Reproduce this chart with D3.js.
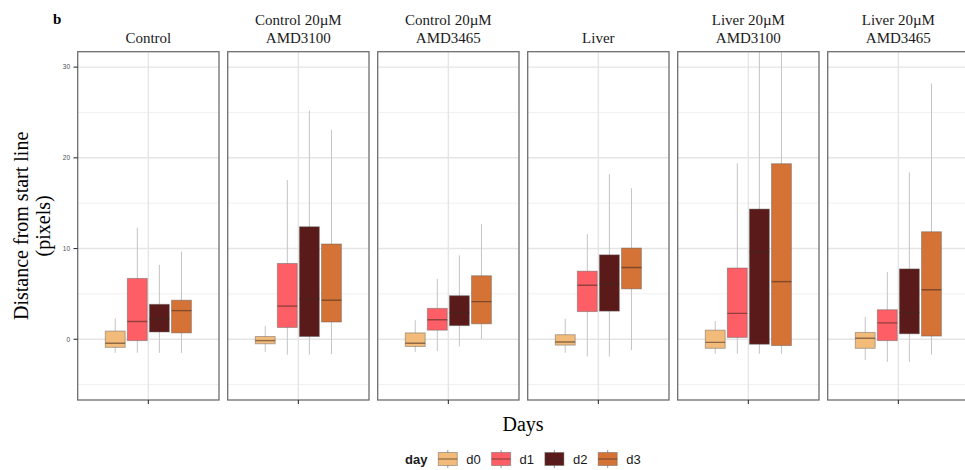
<!DOCTYPE html>
<meta charset="utf-8">
<style>
body{
  margin: 0px;
  background: white;
}
svg{
  display: block;
}
.strip{
  font-family: "Liberation Serif", "Times New Roman", serif;
  font-size: 15px;
  fill: #1a1a1a;
}
.axis-title{
  font-family: "Liberation Serif", "Times New Roman", serif;
  font-size: 20px;
  fill: #000;
}
.ytick{
  font-family: "Liberation Sans", Arial, sans-serif;
  font-size: 6.5px;
  fill: #4d4d4d;
}
.legend{
  font-family: "Liberation Sans", Arial, sans-serif;
  font-size: 13px;
  fill: #1a1a1a;
}
</style>
<body>
<script src="https://cdn.jsdelivr.net/npm/d3@7"></script>
<script>

var panels = ['Control', 'Control 20µM|AMD3100', 'Control 20µM|AMD3465',
              'Liver', 'Liver 20µM|AMD3100', 'Liver 20µM|AMD3465']
var days = ['d0', 'd1', 'd2', 'd3']
var colors = ['#f2bb7a', '#fe5f66', '#5b1a1a', '#d57236']

// box stats per panel, one value per day (d0..d3)
var whiskerLow = [
  [-1.5, -1.5, -1.5, -1.5],
  [-1.4, -1.7, -1.7, -1.65],
  [-1.4, -1.3, -0.8, 0.0],
  [-1.5, -1.9, -1.9, -1.2],
  [-1.6, -1.6, -1.6, -1.6],
  [-2.3, -2.5, -2.5, -1.7]
]
var q1 = [
  [-0.9, -0.15, 0.8, 0.7],
  [-0.5, 1.3, 0.3, 1.9],
  [-0.8, 1.0, 1.5, 1.7],
  [-0.65, 3.05, 3.1, 5.55],
  [-1.0, 0.2, -0.55, -0.7],
  [-1.0, -0.15, 0.6, 0.35]
]
var median = [
  [-0.45, 1.95, 2.25, 3.15],
  [-0.15, 3.65, 4.45, 4.3],
  [-0.45, 2.15, 2.95, 4.15],
  [-0.3, 5.95, 6.1, 7.9],
  [-0.35, 2.85, 9.65, 6.35],
  [0.1, 1.8, 2.95, 5.45]
]
var q3 = [
  [0.9, 6.7, 3.85, 4.3],
  [0.3, 8.35, 12.4, 10.5],
  [0.7, 3.4, 4.8, 7.0],
  [0.5, 7.5, 9.3, 10.05],
  [1.0, 7.85, 14.35, 19.35],
  [0.75, 3.25, 7.75, 11.85]
]
var whiskerHigh = [
  [2.3, 12.3, 8.2, 9.65],
  [1.45, 17.55, 25.2, 23.1],
  [2.1, 6.65, 9.25, 12.7],
  [2.25, 11.6, 18.2, 16.65],
  [2.0, 19.4, 34, 34],
  [2.45, 7.4, 18.4, 28.2]
]
var yMajor = [0, 10, 20, 30]
var yMinor = [-5, 5, 15, 25]

var width = 965,
    height = 470,
    plotTop = 51.7,
    plotBottom = 400

var svg = d3.select('body').append('svg')
    .attr('width', width)
    .attr('height', height)

var px = d3.scaleBand()
    .domain(panels)
    .range([77.7, 77.7 + 891.3])
    .paddingInner(0.058)
    .paddingOuter(0)

var y = d3.scaleLinear()
    .domain([-6.7, 31.7])
    .range([plotBottom, plotTop])

var pw = px.bandwidth()
var ph = plotBottom - plotTop

svg.append('defs').append('clipPath')
    .attr('id', 'panel-clip')
  .append('rect')
    .attr('y', plotTop)
    .attr('width', pw)
    .attr('height', ph)

var panel = svg.selectAll('g.panel')
    .data(panels)
  .enter().append('g')
    .attr('class', 'panel')
    .attr('transform', function(d){ return 'translate(' + px(d) + ',0)' })

panel.append('rect')
    .attr('y', plotTop)
    .attr('width', pw)
    .attr('height', ph)
    .style('fill', 'white')

var inner = panel.append('g')
    .attr('clip-path', 'url(#panel-clip)')

// grid
inner.selectAll('line.minor')
    .data(yMinor)
  .enter().append('line')
    .attr('x1', 0).attr('x2', pw)
    .attr('y1', y).attr('y2', y)
    .style('stroke', '#eeeeee')
    .style('stroke-width', 0.9)

inner.selectAll('line.major')
    .data(yMajor)
  .enter().append('line')
    .attr('x1', 0).attr('x2', pw)
    .attr('y1', y).attr('y2', y)
    .style('stroke', '#e5e5e5')
    .style('stroke-width', 1.4)

inner.append('line')
    .attr('x1', pw / 2).attr('x2', pw / 2)
    .attr('y1', plotTop).attr('y2', plotBottom)
    .style('stroke', '#e5e5e5')
    .style('stroke-width', 1.4)

// boxes
var dx = d3.scaleBand()
    .domain(days)
    .range([pw / 2 - 44.15, pw / 2 + 44.15])

var bw = dx.bandwidth() * 0.9

inner.each(function(p, pi){
  var g = d3.select(this)
  var box = g.selectAll('g.box')
      .data(days)
    .enter().append('g')
      .attr('transform', function(d){ return 'translate(' + (dx(d) + dx.bandwidth() / 2) + ',0)' })

  box.append('line')
      .attr('y1', function(d, i){ return y(whiskerLow[pi][i]) })
      .attr('y2', function(d, i){ return y(whiskerHigh[pi][i]) })
      .style('stroke', '#c4c4c4')
      .style('stroke-width', 1)

  box.append('rect')
      .attr('x', -bw / 2)
      .attr('width', bw)
      .attr('y', function(d, i){ return y(q3[pi][i]) })
      .attr('height', function(d, i){ return y(q1[pi][i]) - y(q3[pi][i]) })
      .style('fill', function(d, i){ return colors[i] })
      .style('stroke', 'rgba(90,90,90,0.45)')
      .style('stroke-width', 1)

  box.append('line')
      .attr('x1', -bw / 2).attr('x2', bw / 2)
      .attr('y1', function(d, i){ return y(median[pi][i]) })
      .attr('y2', function(d, i){ return y(median[pi][i]) })
      .style('stroke', 'rgba(60,40,30,0.55)')
      .style('stroke-width', 1.4)
})

panel.append('rect')
    .attr('y', plotTop)
    .attr('width', pw)
    .attr('height', ph)
    .style('fill', 'none')
    .style('stroke', '#6e6e6e')
    .style('stroke-width', 1.3)

// x ticks
panel.append('line')
    .attr('x1', pw / 2).attr('x2', pw / 2)
    .attr('y1', plotBottom).attr('y2', plotBottom + 4)
    .style('stroke', '#333')
    .style('stroke-width', 1.1)

// strip titles
panel.each(function(p){
  var lines = p.split('|')
  var t = d3.select(this).append('text')
      .attr('class', 'strip')
      .attr('text-anchor', 'middle')
  lines.forEach(function(l, i){
    t.append('tspan')
        .attr('x', pw / 2)
        .attr('y', lines.length == 1 ? 43 : 25 + i * 18)
        .text(l)
  })
})

// y axis
var yAxis = svg.append('g')
yAxis.selectAll('line')
    .data(yMajor)
  .enter().append('line')
    .attr('x1', 73.5).attr('x2', 77.7)
    .attr('y1', y).attr('y2', y)
    .style('stroke', '#333')
    .style('stroke-width', 1.1)
yAxis.selectAll('text')
    .data(yMajor)
  .enter().append('text')
    .attr('class', 'ytick')
    .attr('x', 70)
    .attr('y', y)
    .attr('dy', '0.35em')
    .attr('text-anchor', 'end')
    .text(function(d){ return d })

svg.append('text')
    .attr('class', 'axis-title')
    .attr('text-anchor', 'middle')
    .attr('transform', 'translate(28,' + ((plotTop + plotBottom) / 2) + ') rotate(-90)')
  .selectAll('tspan')
    .data(['Distance from start line', '(pixels)'])
  .enter().append('tspan')
    .attr('x', 0)
    .attr('dy', function(d, i){ return i ? '1.1em' : 0 })
    .text(function(d){ return d })

svg.append('text')
    .attr('class', 'axis-title')
    .attr('text-anchor', 'middle')
    .attr('x', 523)
    .attr('y', 431)
    .text('Days')

svg.append('text')
    .attr('x', 53)
    .attr('y', 24)
    .style('font-family', '"Liberation Serif", "Times New Roman", serif')
    .style('font-weight', 'bold')
    .style('font-size', '15px')
    .text('b')

// legend
var legend = svg.append('g')
    .attr('transform', 'translate(0,459)')

legend.append('text')
    .attr('class', 'legend')
    .attr('x', 405)
    .attr('dy', '0.35em')
    .style('font-weight', 'bold')
    .text('day')

var key = legend.selectAll('g.key')
    .data(days)
  .enter().append('g')
    .attr('transform', function(d, i){ return 'translate(' + (438.3 + i * 53.3) + ',0)' })

key.append('line')
    .attr('x1', 9.5).attr('x2', 9.5)
    .attr('y1', -9).attr('y2', 9)
    .style('stroke', '#999')
key.append('rect')
    .attr('y', -6.5)
    .attr('width', 19)
    .attr('height', 13)
    .style('fill', function(d, i){ return colors[i] })
    .style('stroke', 'rgba(90,90,90,0.45)')
key.append('line')
    .attr('x1', 0).attr('x2', 19)
    .style('stroke', 'rgba(60,40,30,0.55)')
    .style('stroke-width', 1.2)
key.append('text')
    .attr('class', 'legend')
    .attr('x', 28)
    .attr('dy', '0.35em')
    .text(function(d){ return d })

</script>
